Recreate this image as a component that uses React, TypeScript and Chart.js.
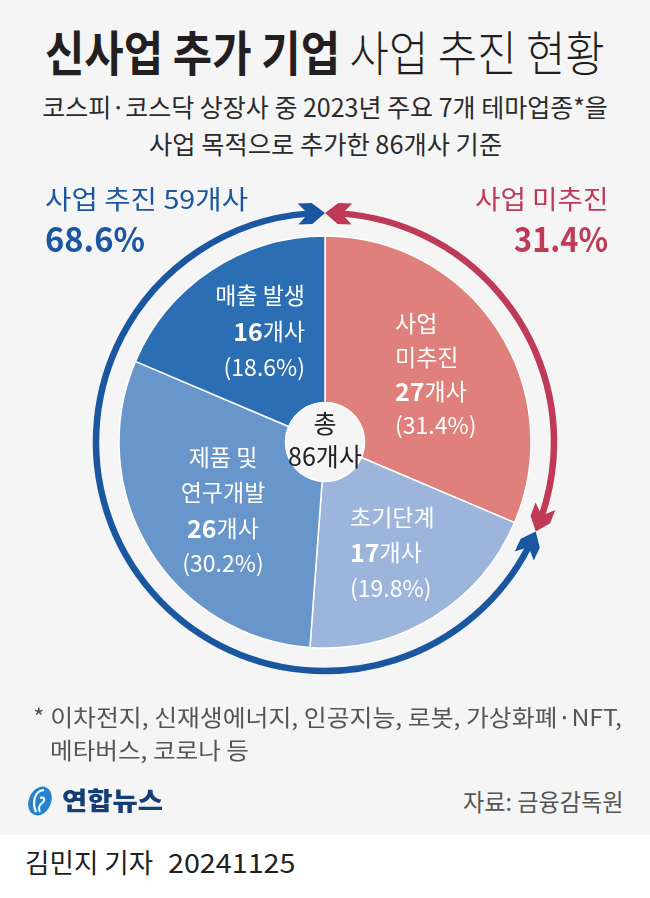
import React, { useEffect, useLayoutEffect, useRef } from 'react';
import { Chart, registerables } from 'chart.js';

Chart.register(...registerables);

const FONT = '"Noto Sans CJK KR", "Noto Sans", sans-serif';
const LIGHT_FONT = '"Noto Sans CJK KR Light", "Noto Sans CJK KR DemiLight", "Noto Sans CJK KR", sans-serif';

// ---- data ----
const categories = ['사업 미추진', '초기단계', '제품 및 연구개발', '매출 발생'];
const labelLines = [['사업', '미추진'], ['초기단계'], ['제품 및', '연구개발'], ['매출 발생']];
const counts = [27, 17, 26, 16];
const percents = ['31.4', '19.8', '30.2', '18.6'];
const sliceColors = ['#E0807C', '#9DB5DB', '#6895CA', '#2C6EB4'];
const unit = '개사';
const totalLines = ['총', '86개사'];
const promotedLabel = '사업 추진 59개사';
const promotedPct = '68.6%';
const notPromotedLabel = '사업 미추진';
const notPromotedPct = '31.4%';
const titleBold = '신사업 추가 기업';
const titleLight = '사업 추진 현황';
const subtitle = ['코스피·코스닥 상장사 중 2023년 주요 7개 테마업종*을', '사업 목적으로 추가한 86개사 기준'];
const footnote = ['* 이차전지, 신재생에너지, 인공지능, 로봇, 가상화폐·NFT,', '메타버스, 코로나 등'];
const source = '자료: 금융감독원';
const byline = '김민지 기자';
const dateText = '20241125';

const BLUE = '#1B57A1';
const RED = '#BE3A57';

// label layout relative to pie centre
const labelLayout = [
  { dx: 70, dy: -119, align: 'left', gap: 34 },
  { dx: 25, dy: 75, align: 'left', gap: 35.5 },
  { dx: -102, dy: 15, align: 'center', gap: 35.5 },
  { dx: -20, dy: -147, align: 'right', gap: 36 },
];

const arrowPlugin = {
  id: 'arrows',
  afterDatasetsDraw(chart: any) {
    const meta = chart.getDatasetMeta(0);
    const a0 = meta.data[0];
    const { x: cx, y: cy, outerRadius, startAngle, endAngle } = a0.getProps(
      ['x', 'y', 'outerRadius', 'startAngle', 'endAngle'],
      true
    );
    const ctx = chart.ctx;
    const R = outerRadius + 23;
    const top = startAngle;
    const split = endAngle;
    const back = 17;
    const d = back / R;
    ctx.save();
    ctx.lineWidth = 6.5;
    ctx.lineCap = 'butt';
    ctx.strokeStyle = RED;
    ctx.beginPath();
    ctx.arc(cx, cy, R, top + d, split - d, false);
    ctx.stroke();
    ctx.strokeStyle = BLUE;
    ctx.beginPath();
    ctx.arc(cx, cy, R, split + d, top + Math.PI * 2 - d, false);
    ctx.stroke();

    const head = (theta: number, dir: number, color: string) => {
      const px = cx + R * Math.cos(theta);
      const py = cy + R * Math.sin(theta);
      const q = theta - dir * d;
      const qx = cx + R * Math.cos(q);
      const qy = cy + R * Math.sin(q);
      let ux = px - qx;
      let uy = py - qy;
      const len = Math.hypot(ux, uy);
      ux /= len;
      uy /= len;
      const vx = -uy;
      const vy = ux;
      const pts = [
        [0, 0],
        [-13, -10.5],
        [-27, -10.5],
        [-17, 0],
        [-27, 10.5],
        [-13, 10.5],
      ];
      ctx.fillStyle = color;
      ctx.beginPath();
      pts.forEach(([a, b], i) => {
        const x = px + a * ux + b * vx;
        const y = py + a * uy + b * vy;
        if (i === 0) ctx.moveTo(x, y);
        else ctx.lineTo(x, y);
      });
      ctx.closePath();
      ctx.fill();
    };
    head(top, -1, RED);
    head(split, 1, RED);
    head(top + Math.PI * 2, 1, BLUE);
    head(split, -1, BLUE);
    ctx.restore();
  },
};

const labelPlugin = {
  id: 'sliceLabels',
  afterDraw(chart: any) {
    const ctx = chart.ctx;
    const meta = chart.getDatasetMeta(0);
    const { x: cx, y: cy } = meta.data[0].getProps(['x', 'y'], true);
    ctx.save();
    ctx.textBaseline = 'middle';
    ctx.fillStyle = '#ffffff';
    const normal = `400 23px ${FONT}`;
    const bold = `700 25px ${FONT}`;
    counts.forEach((c, i) => {
      const lay = labelLayout[i];
      const x = cx + lay.dx;
      let y = cy + lay.dy;
      const drawLine = (parts: { t: string; f: string }[]) => {
        const widths = parts.map((p) => {
          ctx.font = p.f;
          return ctx.measureText(p.t).width;
        });
        const total = widths.reduce((s, w) => s + w, 0);
        let sx = lay.align === 'left' ? x : lay.align === 'right' ? x - total : x - total / 2;
        ctx.textAlign = 'left';
        parts.forEach((p, k) => {
          ctx.font = p.f;
          ctx.fillText(p.t, sx, y);
          sx += widths[k];
        });
        y += lay.gap;
      };
      labelLines[i].forEach((l) => drawLine([{ t: l, f: normal }]));
      drawLine([
        { t: String(c), f: bold },
        { t: unit, f: normal },
      ]);
      drawLine([{ t: `(${percents[i]}%)`, f: normal }]);
    });
    // centre
    ctx.fillStyle = '#222222';
    ctx.textAlign = 'center';
    ctx.font = `400 25px ${FONT}`;
    ctx.fillText(totalLines[0], cx, cy - 19);
    ctx.fillText(totalLines[1], cx, cy + 14);
    ctx.restore();
  },
};

type FitProps = {
  x: number;
  y: number;
  w: number;
  size: number;
  align?: 'left' | 'right' | 'center';
  weight?: number;
  color?: string;
  children: React.ReactNode;
};

function FitText({ x, y, w, size, align = 'left', weight = 400, color = '#222', children }: FitProps) {
  const ref = useRef<HTMLSpanElement>(null);
  useLayoutEffect(() => {
    const fit = () => {
      const el = ref.current;
      if (!el) return;
      const nat = el.offsetWidth;
      if (nat > 0) el.style.transform = `scaleX(${w / nat})`;
    };
    fit();
    if ((document as any).fonts && (document as any).fonts.ready) {
      (document as any).fonts.ready.then(fit);
    }
  }, [w]);
  const L = Math.round(size * 1.3);
  const wrap: React.CSSProperties = {
    position: 'absolute',
    top: y - L / 2 - size * 0.05,
    height: L,
    lineHeight: `${L}px`,
    whiteSpace: 'nowrap',
    fontFamily: FONT,
    fontSize: size,
    fontWeight: weight,
    color,
  };
  if (align === 'left') {
    wrap.left = x;
  } else if (align === 'right') {
    wrap.right = 650 - x;
    wrap.textAlign = 'right';
  } else {
    wrap.left = x - 1000;
    wrap.width = 2000;
    wrap.textAlign = 'center';
  }
  return (
    <div style={wrap}>
      <span
        ref={ref}
        style={{
          display: 'inline-block',
          transformOrigin: align === 'left' ? 'left center' : align === 'right' ? 'right center' : 'center center',
        }}
      >
        {children}
      </span>
    </div>
  );
}

function Logo() {
  return (
    <svg width="40" height="40" viewBox="0 0 40 40" style={{ position: 'absolute', left: 20, top: 781 }}>
      <ellipse cx="20" cy="20" rx="11" ry="15" transform="rotate(25 20 20)" fill="#2383CF" />
      <path d="M24 9 C 14 10, 12 22, 16 31" stroke="#ffffff" strokeWidth="2.2" fill="none" />
      <path d="M20 17 C 24 15, 26 19, 22 22 C 19 24, 18 28, 20 31" stroke="#ffffff" strokeWidth="2" fill="none" />
    </svg>
  );
}

export default function App() {
  const canvasRef = useRef<HTMLCanvasElement>(null);

  useEffect(() => {
    document.body.style.margin = '0';
    const canvas = canvasRef.current;
    if (!canvas) return;
    const chart = new Chart(canvas, {
      type: 'doughnut',
      data: {
        labels: categories,
        datasets: [
          {
            data: counts,
            backgroundColor: sliceColors,
            borderColor: '#ffffff',
            borderWidth: 1.5,
          },
        ],
      },
      options: {
        responsive: false,
        animation: false,
        cutout: 52,
        radius: 206,
        events: [],
        layout: { padding: 0 },
        plugins: {
          legend: { display: false },
          tooltip: { enabled: false },
        },
      } as any,
      plugins: [arrowPlugin, labelPlugin],
    });
    return () => chart.destroy();
  }, []);

  return (
    <div style={{ position: 'absolute', left: 0, top: 0, width: 650, height: 898, background: '#ffffff', overflow: 'hidden' }}>
      <div style={{ position: 'absolute', left: 0, top: 0, width: 650, height: 835, background: '#F5F5F5' }} />
      <canvas
        ref={canvasRef}
        width={650}
        height={544}
        style={{ position: 'absolute', left: 0, top: 170, width: 650, height: 544 }}
      />
      <FitText x={325} y={52} w={560} size={48} align="center" color="#231F20">
        <span style={{ fontWeight: 700 }}>{titleBold}</span>
        <span style={{ fontWeight: 300, fontFamily: LIGHT_FONT }}> {titleLight}</span>
      </FitText>
      <FitText x={325} y={108} w={566} size={25} align="center" color="#2b2b2b">
        {subtitle[0]}
      </FitText>
      <FitText x={325.5} y={145} w={353} size={25} align="center" color="#2b2b2b">
        {subtitle[1]}
      </FitText>
      <FitText x={45} y={199} w={203} size={26} color={BLUE}>
        {promotedLabel}
      </FitText>
      <FitText x={45} y={240} w={100} size={34} weight={700} color={BLUE}>
        {promotedPct}
      </FitText>
      <FitText x={608} y={199} w={133} size={26} align="right" color={RED}>
        {notPromotedLabel}
      </FitText>
      <FitText x={608} y={240} w={94} size={34} weight={700} align="right" color={RED}>
        {notPromotedPct}
      </FitText>
      <FitText x={33} y={717} w={589} size={23} color="#555555">
        {footnote[0]}
      </FitText>
      <FitText x={50} y={750} w={199} size={23} color="#555555">
        {footnote[1]}
      </FitText>
      <Logo />
      <FitText x={62} y={801} w={101} size={25} weight={900} color="#153E75">
        연합뉴스
      </FitText>
      <FitText x={624} y={802} w={161} size={24} align="right" color="#555555">
        {source}
      </FitText>
      <FitText x={25} y={863} w={128} size={27} color="#231F20">
        {byline}
      </FitText>
      <FitText x={168} y={863} w={127} size={26} color="#231F20">
        {dateText}
      </FitText>
    </div>
  );
}
